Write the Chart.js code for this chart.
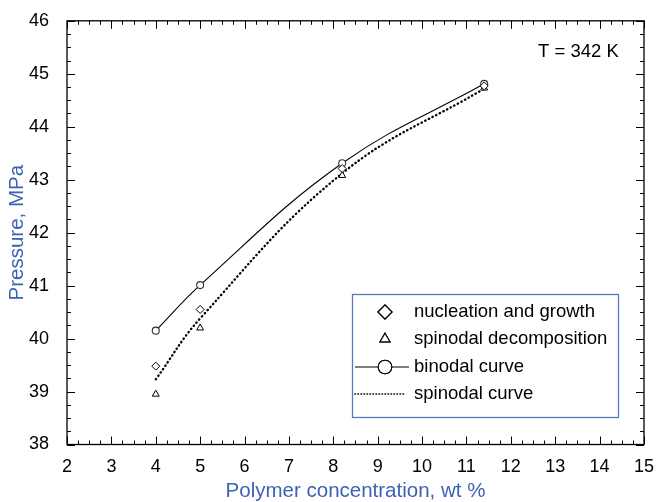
<!DOCTYPE html>
<html>
<head>
<meta charset="utf-8">
<script src="https://cdn.jsdelivr.net/npm/chart.js@4.4.1/dist/chart.umd.min.js"></script>
<style>
  html, body { margin: 0; padding: 0; background: #fff; }
</style>
</head>
<body>
<canvas id="chart" width="658" height="502"></canvas>
<script>
// polymer concentration (wt %) and pressure (MPa)
const concentration = [4, 5, 8.2, 11.4];
const nucleationGrowth = [39.48, 40.55, 43.21, 44.77];
const spinodalDecomp = [38.95, 40.2, 43.08, 44.73];
const binodalCurve = [40.15, 41.01, 43.31, 44.81];
const spinodalCurve = [39.23, 40.38, 43.12, 44.72];

const seriesNames = ["nucleation and growth", "spinodal decomposition", "binodal curve", "spinodal curve"];
const xRange = [2, 15];
const yRange = [38, 46];
const note = "T = 342 K";

const FONT = "'Liberation Sans', Arial, sans-serif";
const BLUE = "#3d62b3";

const pts = (ys) => concentration.map((x, i) => ({ x: x, y: ys[i] }));

// frame with inward major/minor ticks on all four sides
const frameTicks = {
  id: "frameTicks",
  afterDraw(chart) {
    const { ctx, chartArea: a, scales: { x, y } } = chart;
    ctx.save();
    ctx.strokeStyle = "#000";
    ctx.lineWidth = 1.3;
    ctx.strokeRect(a.left, a.top, a.right - a.left, a.bottom - a.top);
    ctx.lineWidth = 1;
    ctx.beginPath();
    for (let v = x.min; v <= x.max + 1e-9; v += 0.25) {
      const px = Math.round(x.getPixelForValue(v)) + 0.5;
      const len = Math.abs(v - Math.round(v)) < 1e-6 ? 8 : 4;
      ctx.moveTo(px, a.bottom); ctx.lineTo(px, a.bottom - len);
      ctx.moveTo(px, a.top); ctx.lineTo(px, a.top + len);
    }
    for (let v = y.min; v <= y.max + 1e-9; v += 0.25) {
      const py = Math.round(y.getPixelForValue(v)) + 0.5;
      const len = Math.abs(v - Math.round(v)) < 1e-6 ? 8 : 4;
      ctx.moveTo(a.left, py); ctx.lineTo(a.left + len, py);
      ctx.moveTo(a.right, py); ctx.lineTo(a.right - len, py);
    }
    ctx.stroke();
    ctx.restore();
  }
};

// boxed legend inside the plot + temperature note
const boxLegend = {
  id: "boxLegend",
  afterDraw(chart) {
    const ctx = chart.ctx;
    const ds = chart.data.datasets;
    const bx = 352, by = 294, bw = 266, bh = 123;
    ctx.save();
    ctx.fillStyle = "#fff";
    ctx.fillRect(bx, by, bw, bh);
    ctx.strokeStyle = "#5a78c0";
    ctx.lineWidth = 1.3;
    ctx.strokeRect(bx + 0.5, by + 0.5, bw, bh);

    const rows = [312, 339, 367, 394];
    const sx = 385;
    ctx.font = "18.5px " + FONT;
    ctx.textBaseline = "middle";
    ctx.fillStyle = "#000";
    ds.forEach((d, i) => {
      const ry = rows[i];
      ctx.strokeStyle = "#000";
      if (d.showLine !== false) {
        ctx.save();
        ctx.lineWidth = i === 3 ? 1.6 : 1;
        if (i === 3) { ctx.setLineDash([0.5, 2.5]); ctx.lineCap = "round"; }
        ctx.beginPath();
        ctx.moveTo(355, ry); ctx.lineTo(i === 3 ? 405 : 409, ry);
        ctx.stroke();
        ctx.restore();
      }
      if (i < 3) {
        const r = [7, 5.8, 6.8][i];
        Chart.helpers.drawPoint(ctx, {
          pointStyle: d.pointStyle, radius: r, borderWidth: 1.1, rotation: 0
        }, sx, ry);
        ctx.fillStyle = "#fff";
        ctx.lineWidth = 1.1;
        ctx.fill();
        ctx.stroke();
        ctx.fillStyle = "#000";
      }
      ctx.fillText(d.label, 414, ry);
    });

    ctx.font = "18.5px " + FONT;
    ctx.fillText(note, 538, 52);
    ctx.restore();
  }
};

new Chart(document.getElementById("chart"), {
  type: "scatter",
  data: {
    datasets: [
      {
        label: seriesNames[0],
        data: pts(nucleationGrowth),
        showLine: false,
        pointStyle: "rectRot",
        pointRadius: 4,
        borderColor: "#000",
        backgroundColor: "#fff",
        borderWidth: 1
      },
      {
        label: seriesNames[1],
        data: pts(spinodalDecomp),
        showLine: false,
        pointStyle: "triangle",
        pointRadius: 4,
        borderColor: "#000",
        backgroundColor: "#fff",
        borderWidth: 1
      },
      {
        label: seriesNames[2],
        data: pts(binodalCurve),
        showLine: true,
        tension: 0.4,
        pointStyle: "circle",
        pointRadius: 3.5,
        borderColor: "#000",
        pointBorderColor: "#333",
        backgroundColor: "#fff",
        borderWidth: 1.1
      },
      {
        label: seriesNames[3],
        data: pts(spinodalCurve),
        showLine: true,
        tension: 0.4,
        pointRadius: 0,
        borderColor: "#000",
        borderWidth: 2.3,
        borderDash: [0.5, 3.6],
        borderCapStyle: "round"
      }
    ]
  },
  options: {
    responsive: false,
    animation: false,
    devicePixelRatio: 1,
    layout: { padding: { top: 19, right: 11, left: 0, bottom: 0 } },
    plugins: {
      legend: { display: false },
      tooltip: { enabled: false }
    },
    scales: {
      x: {
        min: xRange[0],
        max: xRange[1],
        grid: { display: false },
        border: { display: false },
        ticks: { stepSize: 1, color: "#000", padding: 4, font: { family: FONT, size: 18 } },
        title: {
          display: true,
          text: "Polymer concentration, wt %",
          color: BLUE,
          padding: 0,
          font: { family: FONT, size: 20.5, lineHeight: 1 }
        },
        afterFit: (s) => { s.height = 57.5; }
      },
      y: {
        min: yRange[0],
        max: yRange[1],
        grid: { display: false },
        border: { display: false },
        ticks: { stepSize: 1, color: "#000", padding: 10, font: { family: FONT, size: 18 } },
        title: {
          display: true,
          text: "Pressure, MPa",
          color: BLUE,
          padding: { top: 5, bottom: 0 },
          font: { family: FONT, size: 20.5, lineHeight: 1.2 }
        },
        afterFit: (s) => { s.width = 67; }
      }
    }
  },
  plugins: [frameTicks, boxLegend]
});
</script>
</body>
</html>
